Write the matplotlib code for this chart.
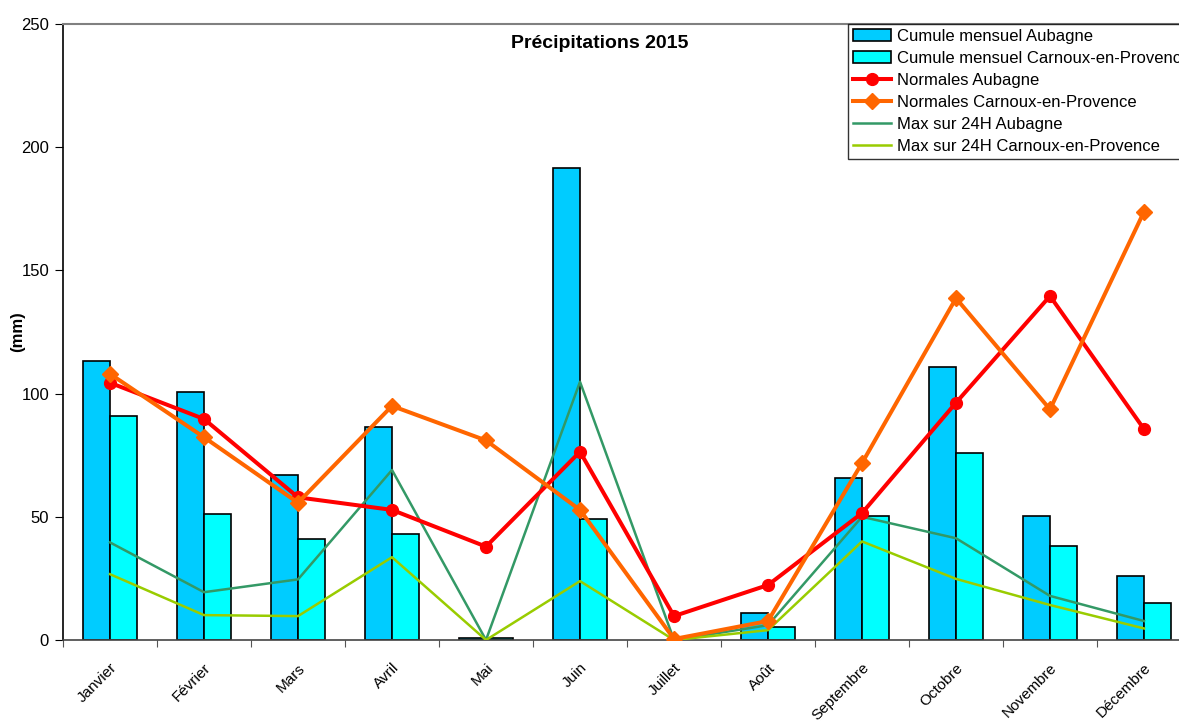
import matplotlib
matplotlib.use("Agg")
import matplotlib.pyplot as plt
import numpy as np

plt.rcParams['font.family'] = ['Liberation Sans', 'DejaVu Sans']

months = ["Janvier", "Février", "Mars", "Avril", "Mai", "Juin", "Juillet",
          "Août", "Septembre", "Octobre", "Novembre", "Décembre"]
cumul_aubagne = [113.2, 100.8, 67.0, 86.4, 1.0, 191.6, 0.0, 10.8, 65.7, 110.9, 50.3, 26.1]
cumul_carnoux = [90.8, 51.3, 41.0, 43.2, 0.8, 49.1, 0.0, 5.1, 50.3, 75.8, 38.3, 15.1]
normales_aubagne = [104.4, 89.7, 57.9, 52.8, 37.9, 76.4, 9.7, 22.3, 51.5, 96.3, 139.6, 85.6]
normales_carnoux = [108.0, 82.3, 55.7, 95.0, 81.0, 52.8, 0.4, 7.7, 71.8, 138.7, 93.6, 173.8]
max24_aubagne = [39.6, 19.4, 24.6, 69.0, 0.0, 104.8, 0.0, 6.0, 50.0, 41.3, 17.9, 7.7]
max24_carnoux = [26.7, 10.1, 9.7, 33.6, 0.0, 23.9, 0.0, 4.0, 40.0, 24.8, 14.2, 4.7]

fig = plt.figure(figsize=(11.79, 7.22), dpi=100)
W, H = 1179, 722
left, right, top, bottom = 63, 1191, 24, 640
ax = fig.add_axes([left / W, 1 - bottom / H, (right - left) / W, (bottom - top) / H])

x = np.arange(len(months))
bw = 0.283
ca = np.array(cumul_aubagne, dtype=float)
cc = np.array(cumul_carnoux, dtype=float)
ca_draw = np.where(ca > 0, ca, np.nan)
cc_draw = np.where(cc > 0, cc, np.nan)

b1 = ax.bar(x - bw / 2, ca_draw, bw, color='#00CCFF', edgecolor='black', linewidth=1.2,
            label='Cumule mensuel Aubagne', zorder=2)
b2 = ax.bar(x + bw / 2, cc_draw, bw, color='#00FFFF', edgecolor='black', linewidth=1.2,
            label='Cumule mensuel Carnoux-en-Provence', zorder=2)
l1, = ax.plot(x, normales_aubagne, color='#FF0000', lw=2.9, marker='o', ms=8.5,
              label='Normales Aubagne', zorder=4)
l2, = ax.plot(x, normales_carnoux, color='#FF6600', lw=2.9, marker='D', ms=8,
              label='Normales Carnoux-en-Provence', zorder=4)
l3, = ax.plot(x, max24_aubagne, color='#339966', lw=1.8, label='Max sur 24H Aubagne', zorder=3)
l4, = ax.plot(x, max24_carnoux, color='#99CC00', lw=1.8, label='Max sur 24H Carnoux-en-Provence', zorder=3)

ax.set_xlim(-0.5, 11.5)
ax.set_ylim(0, 250)
ax.set_yticks([0, 50, 100, 150, 200, 250])
ax.tick_params(axis='y', labelsize=12, length=6, color='black', pad=4)

ax.set_xticks(np.arange(-0.5, 12, 1))
ax.set_xticklabels([])
ax.tick_params(axis='x', which='major', length=5, color='#555555')
ax.set_xticks(x, minor=True)
ax.set_xticklabels(months, minor=True, rotation=45, ha='right', rotation_mode='anchor', fontsize=11)
ax.tick_params(axis='x', which='minor', length=0, pad=15)

ax.spines['right'].set_visible(False)
ax.spines['top'].set_color('#808080')
ax.spines['top'].set_linewidth(1.5)
ax.spines['left'].set_color('black')
ax.spines['left'].set_linewidth(1.2)
ax.spines['bottom'].set_color('#444444')
ax.spines['bottom'].set_linewidth(1.2)

ax.set_ylabel('(mm)', fontsize=12, fontweight='bold', va='center')
ax.yaxis.set_label_coords((18 - left) / (right - left), 0.5)
ax.text((600 - left) / (right - left), (bottom - 43) / (bottom - top), 'Précipitations 2015',
        transform=ax.transAxes, ha='center', va='center', fontsize=14, fontweight='bold')

leg = ax.legend(handles=[b1, b2, l1, l2, l3, l4],
                loc='upper left', bbox_to_anchor=((848 - left) / (right - left), 1.0),
                borderaxespad=0, fontsize=12, frameon=True, fancybox=False,
                handlelength=2.3, handletextpad=0.35, labelspacing=0.42, borderpad=0.3)
leg.get_frame().set_edgecolor('black')
leg.get_frame().set_linewidth(1.0)

fig.savefig('out.png', dpi=100)
